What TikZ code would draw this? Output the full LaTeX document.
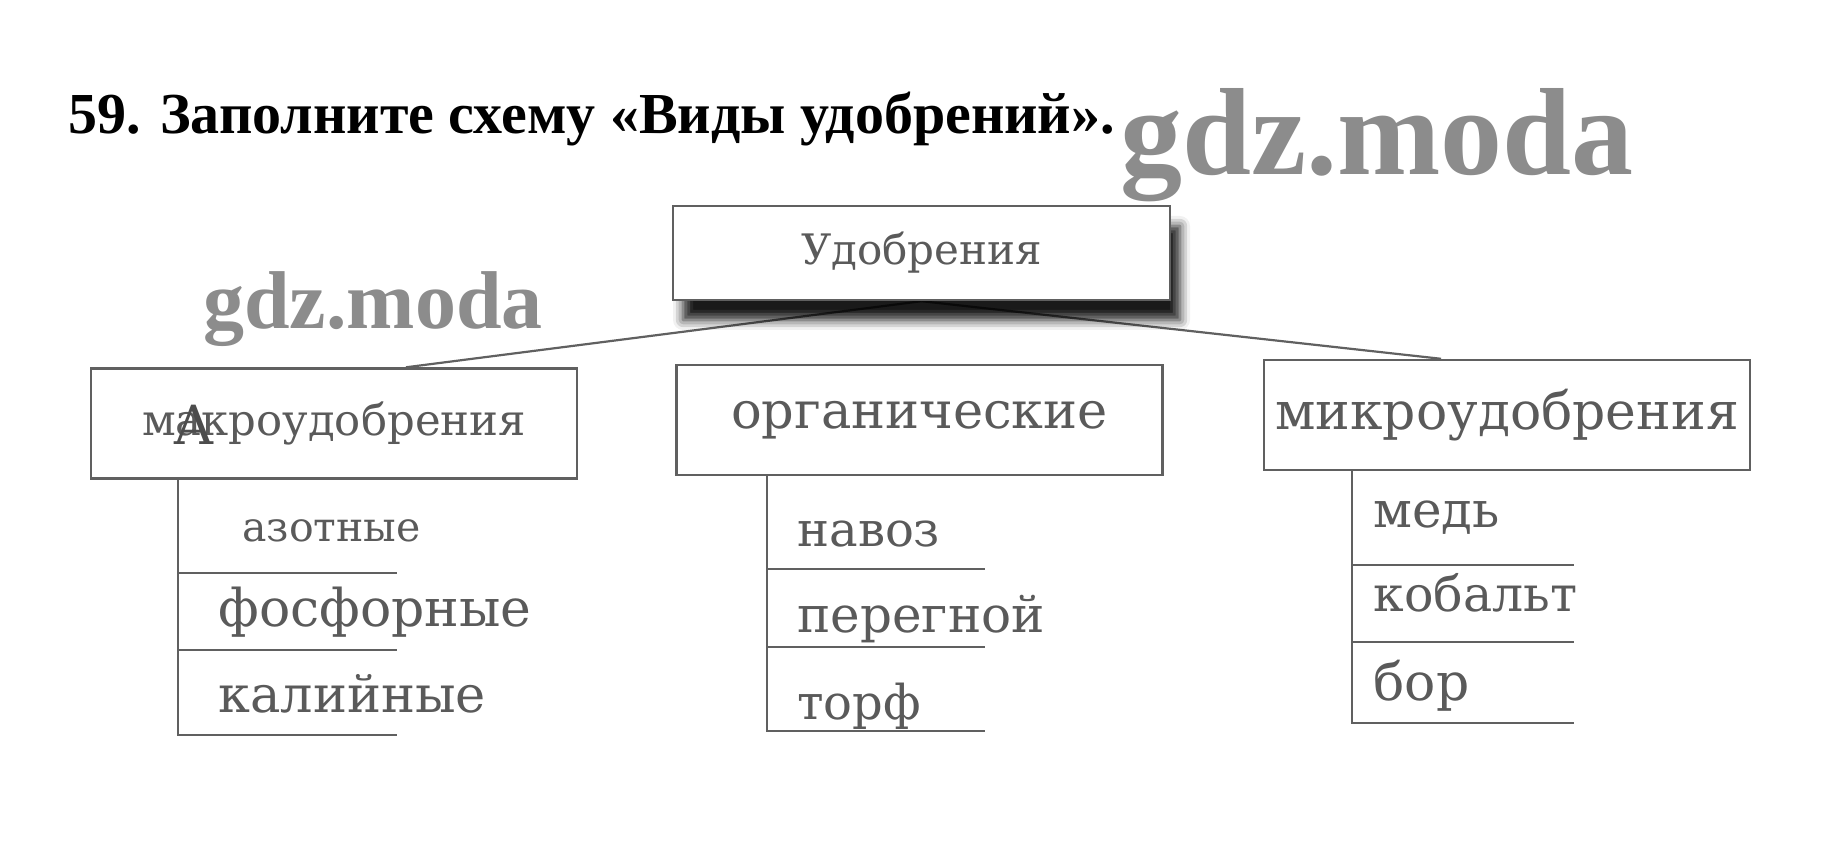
\documentclass[tikz,border=0pt]{standalone}
\usepackage{fontspec}
\setmainfont{DejaVu Serif}
\newfontfamily\headfont{Liberation Serif}
\usepackage{tikz}
\usetikzlibrary{positioning,calc,backgrounds,shadows.blur}
\definecolor{inkgray}{HTML}{5A5A5A}
\definecolor{linegray}{HTML}{606060}
\definecolor{markgray}{HTML}{8C8C8C}
\newcommand\setfs[1]{\fontsize{#1}{#1}\selectfont}

\begin{document}
\begin{tikzpicture}[
        x = 0.5pt, y = -0.5pt,
        kind/.style = {draw = linegray, line width = 1.2pt, text = inkgray,
            minimum width = 243pt, minimum height = 55pt, inner sep = 0pt},
        item/.style = {anchor = base west, text = inkgray, inner sep = 0pt},
        rule/.style = {linegray, line width = 1.1pt},
        wmark/.style = {anchor = base west, text = markgray, inner sep = 0pt}
    ]
        \useasboundingbox (0,0) rectangle (1844,865);
        \node [anchor=base west, inner sep=0pt, font=\headfont\bfseries\setfs{29}] (task) at (68,134) {59. Заполните схему «Виды удобрений».};
        \node [wmark, font=\headfont\bfseries\setfs{62}] (wmA) at (1120,175) {gdz.moda};
        \node [wmark, font=\headfont\bfseries\setfs{41}] (wmB) at (203,329) {gdz.moda};
        \node [kind, minimum width=248.5pt, minimum height=47pt, fill=white,
            blur shadow={shadow xshift=5pt, shadow yshift=-10pt, shadow blur radius=5pt, shadow opacity=90},
            font=\setfs{21}] (fert) at (921.5,253) {Удобрения};
        \node [kind, font=\setfs{21.7}] (macro) at (334,423.5) {макроудобрения};
        \node [kind, font=\setfs{25.5}] (organic) at (919.5,420) {органические};
        \node [kind, font=\setfs{26}] (micro) at (1507,415) {микроудобрения};
        \node [anchor=base, inner sep=0pt, text=black!70, font=\setfs{27}] (fixA) at (194,445) {А};
        \begin{scope}[on background layer]
        \draw [rule] (fert.south) -- ($(macro.north)+(72,0)$);
        \draw [rule] (fert.south) -- ($(micro.north)+(-66,0)$);
        \end{scope}
        % macro
        \draw [rule] (178,479) -- (178,735) -- (397,735);
        \draw [rule] (178,573) -- (397,573);
        \draw [rule] (178,650) -- (397,650);
        \node [item, font=\setfs{20.5}] (azot) at (242,542) {азотные};
        \node [item, font=\setfs{26}] (phos) at (218,627) {фосфорные};
        \node [item, font=\setfs{25.5}] (potas) at (218,713) {калийные};
        % organic
        \draw [rule] (767,475) -- (767,731) -- (985,731);
        \draw [rule] (767,569) -- (985,569);
        \draw [rule] (767,647) -- (985,647);
        \node [item, font=\setfs{24}] (manure) at (797,547) {навоз};
        \node [item, font=\setfs{25}] (humus) at (797,633) {перегной};
        \node [item, font=\setfs{24}] (peat) at (797,720) {торф};
        % micro
        \draw [rule] (1352,470) -- (1352,723) -- (1574,723);
        \draw [rule] (1352,565) -- (1574,565);
        \draw [rule] (1352,642) -- (1574,642);
        \node [item, font=\setfs{25}] (copper) at (1373,528) {медь};
        \node [item, font=\setfs{24.5}] (cobalt) at (1373,612) {кобальт};
        \node [item, font=\setfs{26}] (boron) at (1373,701) {бор};
\end{tikzpicture}
\end{document}
